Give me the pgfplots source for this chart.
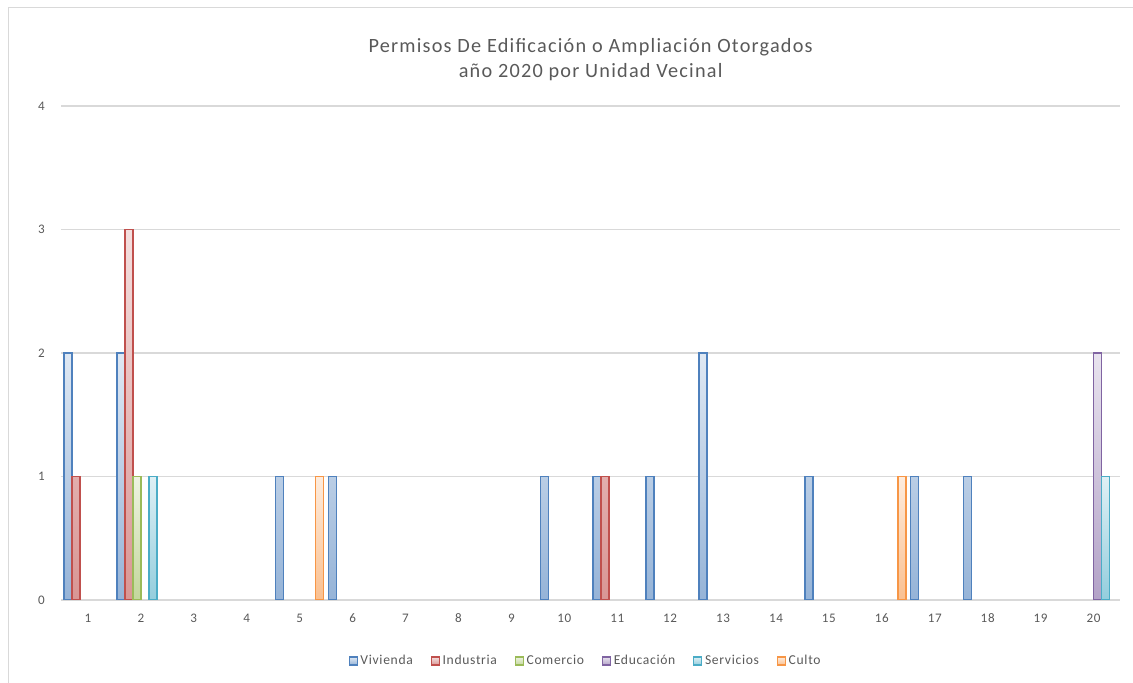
\documentclass[border=0pt]{standalone}
\usepackage{pgfplots}
\pgfplotsset{compat=1.18}
\usepackage{fontspec}
\setmainfont{Carlito}
\newfontfamily\titlefont[LetterSpace=6]{Carlito}
\newfontfamily\lblfont[LetterSpace=5]{Carlito}
\definecolor{txt}{HTML}{595959}
\definecolor{grd}{HTML}{D9D9D9}
\definecolor{vivD}{HTML}{4F81BD}
\definecolor{indD}{HTML}{C0504D}
\definecolor{comD}{HTML}{9BBB59}
\definecolor{eduD}{HTML}{8064A2}
\definecolor{serD}{HTML}{4BACC6}
\definecolor{culD}{HTML}{F79646}
\begin{document}
\begin{tikzpicture}
\path[use as bounding box] (0,0) rectangle (849.75bp,512.25bp);
\draw[grd, line width=1.1bp] (6.4bp,0) -- (6.4bp,506.6bp) -- (849.75bp,506.6bp);
\node[txt, font=\titlefont\fontsize{15.2bp}{18bp}\selectfont] at (443bp,477bp) {Permisos De Edificación o Ampliación Otorgados};
\node[txt, font=\titlefont\fontsize{15.2bp}{18bp}\selectfont] at (443bp,458.25bp) {año 2020 por Unidad Vecinal};
\begin{axis}[
  at={(46.1bp,62.25bp)}, anchor=south west,
  scale only axis, width=793.9bp, height=370.5bp,
  ybar=0pt, bar width=6bp,
  xmin=0.5, xmax=20.5, ymin=0, ymax=4,
  xtick={1,...,20}, ytick={0,...,4},
  ymajorgrids, grid style={grd, line width=0.8bp},
  axis lines*=left,
  x axis line style={grd, line width=0.8bp},
  y axis line style={draw=none},
  major tick length=0pt,
  /pgf/number format/assume math mode=true,
  tick label style={txt, font=\lblfont\fontsize{9.8bp}{11bp}\selectfont},
  yticklabel style={xshift=-9bp},
  xticklabel style={yshift=-7bp},
  legend style={at={(0.4955,-0.1235)}, anchor=center, draw=none, fill=none,
    legend columns=6, font=\lblfont\fontsize{10.2bp}{12bp}\selectfont, text=txt,
    /tikz/every even column/.append style={column sep=11.5bp},
    inner sep=0pt},
  legend image code/.code={\draw[#1, line width=0.8bp] (0bp,-3bp) rectangle (6bp,3bp);},
]
\addplot[draw=vivD, line width=1.1bp, top color=vivD!18!white, bottom color=vivD!60!white] coordinates {(1,2)(2,2)(5,1)(6,1)(10,1)(11,1)(12,1)(13,2)(15,1)(17,1)(18,1)};
\addplot[draw=indD, line width=1.1bp, top color=indD!18!white, bottom color=indD!60!white] coordinates {(1,1)(2,3)(11,1)};
\addplot[draw=comD, line width=1.1bp, top color=comD!18!white, bottom color=comD!60!white] coordinates {(2,1)};
\addplot[draw=eduD, line width=1.1bp, top color=eduD!18!white, bottom color=eduD!60!white] coordinates {(20,2)};
\addplot[draw=serD, line width=1.1bp, top color=serD!18!white, bottom color=serD!60!white] coordinates {(2,1)(20,1)};
\addplot[draw=culD, line width=1.1bp, top color=culD!18!white, bottom color=culD!60!white] coordinates {(5,1)(16,1)};
\legend{Vivienda,Industria,Comercio,Educación,Servicios,Culto}
\end{axis}
\end{tikzpicture}
\end{document}
